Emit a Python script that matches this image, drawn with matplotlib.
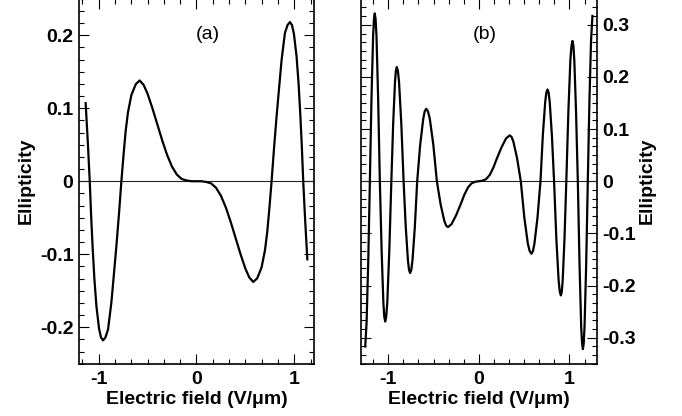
import matplotlib
matplotlib.use("Agg")
import matplotlib.pyplot as plt
from matplotlib.ticker import MultipleLocator, FuncFormatter

# panel (a): ellipticity vs electric field (V/um)
field_a = [-1.132, -1.110, -1.090, -1.075, -1.060, -1.043, -1.022, -0.995, -0.975, -0.954,
           -0.930, -0.903, -0.869, -0.845, -0.818, -0.790, -0.767, -0.745, -0.723, -0.700,
           -0.665, -0.620, -0.580, -0.540, -0.500, -0.450, -0.400, -0.350, -0.300, -0.250,
           -0.200, -0.150, -0.100, -0.050, 0.000,
           0.050, 0.100, 0.150, 0.200, 0.250, 0.300, 0.350, 0.400, 0.450, 0.500,
           0.540, 0.580, 0.620, 0.665, 0.700, 0.723, 0.745, 0.767, 0.790, 0.818,
           0.845, 0.869, 0.903, 0.930, 0.954, 0.975, 0.995, 1.022, 1.043, 1.060,
           1.075, 1.090, 1.110, 1.132]
ellip_a = [0.107, 0.054, 0.000, -0.050, -0.092, -0.133, -0.171, -0.202, -0.214, -0.218,
           -0.214, -0.203, -0.166, -0.130, -0.089, -0.042, 0.000, 0.036, 0.069, 0.094,
           0.118, 0.133, 0.138, 0.132, 0.120, 0.100, 0.078, 0.056, 0.036, 0.020,
           0.009, 0.003, 0.001, 0.000, 0.000,
           0.000, -0.001, -0.003, -0.009, -0.020, -0.036, -0.056, -0.078, -0.100, -0.120,
           -0.132, -0.138, -0.133, -0.118, -0.094, -0.069, -0.036, 0.000, 0.042, 0.089,
           0.130, 0.166, 0.203, 0.214, 0.218, 0.214, 0.202, 0.171, 0.133, 0.092,
           0.050, 0.000, -0.054, -0.107]

# panel (b)
field_b = [-1.253, -1.238, -1.220, -1.202, -1.184, -1.166, -1.157, -1.148, -1.139, -1.129,
           -1.111, -1.092, -1.072, -1.053, -1.043, -1.033, -1.022, -1.010, -0.988, -0.965,
           -0.945, -0.925, -0.915, -0.905, -0.893, -0.880, -0.855, -0.830, -0.806, -0.782,
           -0.770, -0.758, -0.745, -0.732, -0.706, -0.680, -0.647, -0.613, -0.597, -0.580,
           -0.561, -0.541, -0.502, -0.463, -0.422, -0.381, -0.361, -0.340, -0.300, -0.250,
           -0.200, -0.160, -0.120, -0.080, -0.040, 0.000,
           0.040, 0.080, 0.120, 0.160, 0.200, 0.250, 0.300, 0.340, 0.361, 0.381,
           0.422, 0.463, 0.502, 0.541, 0.561, 0.580, 0.597, 0.613, 0.647, 0.680,
           0.706, 0.732, 0.745, 0.758, 0.770, 0.782, 0.806, 0.830, 0.855, 0.880,
           0.893, 0.905, 0.915, 0.925, 0.945, 0.965, 0.988, 1.010, 1.022, 1.033,
           1.043, 1.053, 1.072, 1.092, 1.111, 1.129, 1.139, 1.148, 1.157, 1.166,
           1.184, 1.202, 1.220, 1.238, 1.253]
ellip_b = [-0.317, -0.270, -0.155, 0.000, 0.161, 0.279, 0.311, 0.322, 0.311, 0.279,
           0.161, 0.000, -0.135, -0.233, -0.260, -0.269, -0.260, -0.233, -0.135, 0.000,
           0.110, 0.190, 0.212, 0.219, 0.212, 0.190, 0.110, 0.000, -0.088, -0.152,
           -0.170, -0.176, -0.170, -0.152, -0.088, 0.000, 0.070, 0.120, 0.134, 0.139,
           0.134, 0.120, 0.070, 0.000, -0.044, -0.076, -0.085, -0.088, -0.082, -0.065,
           -0.044, -0.026, -0.012, -0.004, -0.001, 0.000,
           0.001, 0.004, 0.012, 0.026, 0.044, 0.065, 0.082, 0.088, 0.085, 0.076,
           0.044, 0.000, -0.070, -0.120, -0.134, -0.139, -0.134, -0.120, -0.070, 0.000,
           0.088, 0.152, 0.170, 0.176, 0.170, 0.152, 0.088, 0.000, -0.110, -0.190,
           -0.212, -0.219, -0.212, -0.190, -0.110, 0.000, 0.135, 0.233, 0.260, 0.269,
           0.260, 0.233, 0.135, 0.000, -0.161, -0.279, -0.311, -0.322, -0.311, -0.279,
           -0.161, 0.000, 0.155, 0.270, 0.317]

plt.rcParams['font.family'] = ['Liberation Sans', 'DejaVu Sans']
plt.rcParams['font.weight'] = 'bold'
plt.rcParams['axes.unicode_minus'] = False

fmt = FuncFormatter(lambda v, p: '0' if abs(v) < 1e-9 else '%g' % round(v, 3))

fig = plt.figure(figsize=(6.82, 4.16), dpi=100)
ax_a = fig.add_axes([0.1158, 0.1257, 0.3446, 0.8773])
ax_b = fig.add_axes([0.5293, 0.1257, 0.3456, 0.8773])


def style(ax, xlim, ylim):
    ax.set_xlim(*xlim)
    ax.set_ylim(*ylim)
    ax.axhline(0, color='0.15', lw=0.8)
    ax.xaxis.set_major_locator(MultipleLocator(1))
    ax.xaxis.set_minor_locator(MultipleLocator(1 / 6))
    ax.yaxis.set_major_locator(MultipleLocator(0.1))
    ax.yaxis.set_minor_locator(MultipleLocator(0.1 / 6))
    ax.xaxis.set_major_formatter(fmt)
    ax.yaxis.set_major_formatter(fmt)
    ax.tick_params(which='both', direction='in', top=True, right=True,
                   width=0.8, labelsize=14, pad=4)
    ax.tick_params(axis='x', which='both', pad=5)
    ax.tick_params(which='major', length=7.2)
    ax.tick_params(which='minor', length=3.4)
    for s in ax.spines.values():
        s.set_linewidth(1.2)
    ax.set_xlabel('Electric field (V/μm)', fontsize=14, fontweight='bold')
    ax.xaxis.set_label_coords(0.5, -0.074)


style(ax_a, (-1.2, 1.2), (-0.25, 0.25))
ax_a.plot(field_a, ellip_a, color='black', lw=1.6)
ax_a.set_ylabel('Ellipticity', fontsize=14, fontweight='bold')
ax_a.yaxis.set_label_coords(-0.19, 0.5)
ax_a.text(0.547, 0.902, '(a)', transform=ax_a.transAxes, ha='center', va='center',
          fontsize=14, fontweight='normal')

style(ax_b, (-1.3, 1.3), (-0.35, 0.35))
ax_b.plot(field_b, ellip_b, color='black', lw=1.6)
ax_b.tick_params(axis='y', which='both', labelleft=False, labelright=True)
ax_b.yaxis.set_label_position('right')
ax_b.set_ylabel('Ellipticity', fontsize=14, fontweight='bold')
ax_b.yaxis.set_label_coords(1.18, 0.5)
ax_b.text(0.523, 0.902, '(b)', transform=ax_b.transAxes, ha='center', va='center',
          fontsize=14, fontweight='normal')

fig.savefig('out.png', dpi=100)
